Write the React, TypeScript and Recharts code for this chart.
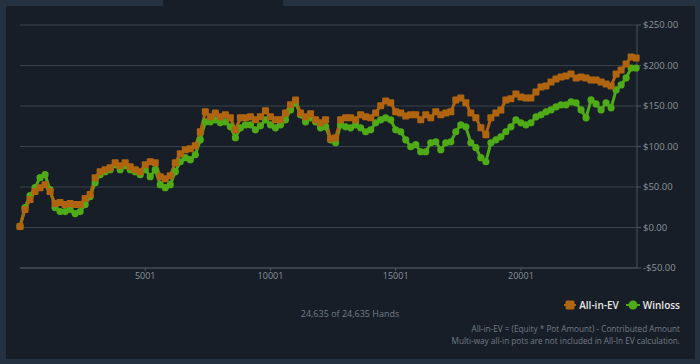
import { LineChart, Line, XAxis, YAxis, CartesianGrid } from "recharts";

// hands sampled every 200 hands, starting at hand 1
const HAND_STEP = 200;
const TOTAL_HANDS = 24635;

const allInEv = [
  1.2, 22.2, 34.5, 44.3, 49.2, 52.9, 44.3, 29.5, 30.8, 28.3,
  29.5, 28.3, 28.3, 35.7, 40.6, 61.5, 68.9, 71.4, 73.8, 80.0,
  76.3, 80.0, 75.1, 71.4, 68.9, 77.5, 81.2, 80.0, 62.8, 60.3,
  64.0, 80.0, 91.1, 96.0, 97.2, 100.9, 118.2, 142.8, 136.6, 141.5,
  136.6, 139.1, 135.4, 120.6, 135.4, 135.4, 136.6, 132.9, 136.6, 144.0,
  136.6, 132.9, 132.9, 141.5, 151.4, 157.5, 141.5, 136.6, 140.3, 132.9,
  129.2, 132.9, 109.5, 110.8, 132.9, 135.4, 135.4, 132.9, 139.1, 136.6,
  135.4, 141.5, 150.2, 156.3, 153.9, 142.8, 141.5, 137.8, 139.1, 139.1,
  132.9, 139.1, 135.4, 142.8, 139.1, 141.5, 142.8, 157.5, 160.0, 153.9,
  141.5, 135.4, 123.1, 114.5, 135.4, 141.5, 145.2, 157.5, 158.8, 164.9,
  161.2, 160.0, 160.0, 167.4, 173.5, 174.8, 179.7, 183.4, 185.9, 187.1,
  189.5, 184.6, 185.9, 184.6, 182.2, 182.2, 179.7, 177.2, 174.8, 189.5,
  194.5, 201.8, 210.5, 209.2,
];

const winloss = [
  1.2, 24.6, 39.4, 49.2, 61.5, 65.2, 46.8, 24.6, 19.7, 19.7,
  22.2, 17.2, 19.7, 28.3, 38.2, 55.4, 65.2, 68.9, 71.4, 77.5,
  71.4, 76.3, 71.4, 68.9, 65.2, 71.4, 62.8, 71.4, 52.9, 49.2,
  52.9, 68.9, 81.2, 86.2, 83.7, 89.8, 108.3, 130.5, 130.5, 132.9,
  129.2, 130.5, 124.3, 110.8, 123.1, 126.8, 126.8, 120.6, 125.5, 132.9,
  126.8, 123.1, 126.8, 132.9, 145.2, 153.9, 139.1, 130.5, 135.4, 130.5,
  123.1, 124.3, 108.3, 104.6, 126.8, 124.3, 123.1, 126.8, 123.1, 118.2,
  120.6, 129.2, 132.9, 135.4, 132.9, 120.6, 118.2, 108.3, 99.7, 102.2,
  93.5, 93.5, 104.6, 105.8, 96.0, 104.6, 105.8, 118.2, 126.8, 124.3,
  104.6, 98.5, 86.2, 81.2, 104.6, 108.3, 112.0, 118.2, 124.3, 132.9,
  129.2, 126.8, 129.2, 136.6, 139.1, 142.8, 145.2, 148.9, 151.4, 151.4,
  155.1, 153.9, 145.2, 135.4, 157.5, 152.6, 145.2, 153.9, 147.7, 169.8,
  176.0, 184.6, 196.9, 196.9,
];

const xTicks = [5001, 10001, 15001, 20001];
const yTicks = [-50, 0, 50, 100, 150, 200, 250];

const data = allInEv.map((ev, i) => ({
  hand: 1 + i * HAND_STEP,
  ev,
  winloss: winloss[i],
}));

const ORANGE = "#b0640f";
const GREEN = "#4faa17";
const AXIS = "#8b939c";
const FONT = "'Open Sans', sans-serif";

const fmtMoney = (v: number) => (v < 0 ? "-$" : "$") + Math.abs(v).toFixed(2);

const SquareDot = (props: any) => {
  const { cx, cy, index } = props;
  if (cx == null || cy == null) return <g key={`s${index}`} />;
  return <rect key={`s${index}`} x={cx - 3.5} y={cy - 3.5} width={7} height={7} rx={1} fill={ORANGE} />;
};

const CircleDot = (props: any) => {
  const { cx, cy, index } = props;
  if (cx == null || cy == null) return <g key={`c${index}`} />;
  return <circle key={`c${index}`} cx={cx} cy={cy} r={3.6} fill={GREEN} />;
};

export default function App() {
  return (
    <div style={{ position: "absolute", left: 0, top: 0, width: 700, height: 364, background: "#243140", fontFamily: FONT, overflow: "hidden" }}>
      <div style={{ position: "absolute", left: 6, top: 6, width: 689, height: 353, background: "#171e27" }} />
      <div style={{ position: "absolute", left: 163, top: 0, width: 120, height: 6, background: "#171e27" }} />
      <div style={{ position: "absolute", left: 0, top: 0 }}>
        <LineChart width={700} height={300} data={data} margin={{ top: 25, right: 13, left: 20, bottom: 2 }}>
          <CartesianGrid vertical={false} stroke="#38424d" />
          <XAxis
            type="number"
            dataKey="hand"
            domain={[1, TOTAL_HANDS]}
            ticks={xTicks}
            stroke="#4a545f"
            tick={{ fill: AXIS, fontSize: 9, fontFamily: FONT }}
            tickSize={3}
            tickMargin={2}
          />
          <YAxis
            orientation="right"
            domain={[-50, 250]}
            ticks={yTicks}
            tickFormatter={fmtMoney}
            stroke="#4a545f"
            tick={{ fill: AXIS, fontSize: 9.5, fontFamily: FONT }}
            tickSize={4}
            tickMargin={2}
            width={50}
          />
          <Line
            type="linear"
            dataKey="winloss"
            stroke={GREEN}
            strokeWidth={3}
            dot={CircleDot}
            activeDot={false}
            isAnimationActive={false}
          />
          <Line
            type="linear"
            dataKey="ev"
            stroke={ORANGE}
            strokeWidth={3}
            dot={SquareDot}
            activeDot={false}
            isAnimationActive={false}
          />
        </LineChart>
      </div>
      <div style={{ position: "absolute", left: 0, width: 700, top: 307, textAlign: "center", fontSize: 9, color: "#737c86" }}>
        24,635 of 24,635 Hands
      </div>
      <div style={{ position: "absolute", right: 20, top: 298, display: "flex", alignItems: "center", fontSize: 10, fontWeight: 600, color: "#e8e8e8" }}>
        <svg width={12} height={12} style={{ marginRight: 3 }}>
          <line x1={0} y1={6} x2={12} y2={6} stroke={ORANGE} strokeWidth={2} />
          <rect x={1.5} y={1.5} width={9} height={9} rx={1.5} fill={ORANGE} />
        </svg>
        <span style={{ marginRight: 7 }}>All-in-EV</span>
        <svg width={14} height={12} style={{ marginRight: 3 }}>
          <line x1={0} y1={6} x2={14} y2={6} stroke={GREEN} strokeWidth={2} />
          <circle cx={7} cy={6} r={4.5} fill={GREEN} />
        </svg>
        <span>Winloss</span>
      </div>
      <div style={{ position: "absolute", right: 20, top: 323, textAlign: "right", fontSize: 8.2, lineHeight: "11.5px", color: "#737c86" }}>
        All-in-EV = (Equity * Pot Amount) - Contributed Amount
        <br />
        Multi-way all-in pots are not included in All-In EV calculation.
      </div>
    </div>
  );
}
